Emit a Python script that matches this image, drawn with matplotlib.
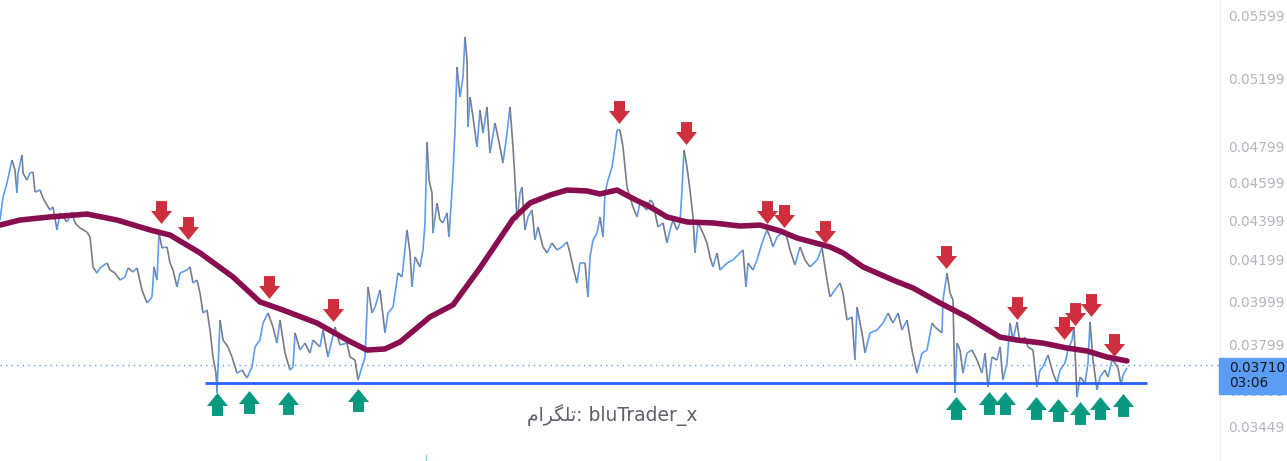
import matplotlib
matplotlib.use("Agg")
import matplotlib.pyplot as plt
from matplotlib.collections import LineCollection
from matplotlib.path import Path
from matplotlib.patches import Rectangle
from matplotlib.lines import Line2D
from matplotlib.ticker import NullLocator

# bar index and closing price
bars = [0, 3, 7, 12, 15, 17, 18, 22, 23, 27, 30, 33, 35, 40, 43, 47, 50, 53, 57, 60, 67, 72, 75, 80, 87,
        90, 93, 97, 100, 107, 110, 115, 120, 125, 128, 133, 137, 142, 147, 152, 154, 157, 159, 162, 167, 170, 173, 177, 180, 187,
        190, 193, 197, 200, 203, 207, 210, 213, 216, 217, 220, 223, 228, 232, 237, 242, 247, 252, 255, 260, 263, 268, 273, 277, 280,
        285, 290, 293, 295, 300, 305, 310, 313, 320, 323, 328, 332, 335, 340, 347, 350, 355, 358, 362, 365, 368, 372, 375, 380, 385,
        388, 393, 398, 402, 407, 410, 412, 415, 420, 423, 425, 427, 429, 432, 433, 437, 440, 443, 447, 449, 452, 453, 455, 457, 460,
        463, 465, 467, 468, 470, 473, 477, 480, 483, 487, 490, 495, 500, 503, 507, 510, 513, 515, 517, 520, 522, 525, 528, 532, 535,
        538, 543, 547, 552, 557, 562, 567, 570, 573, 577, 580, 585, 588, 590, 593, 597, 600, 603, 605, 608, 612, 615, 617, 620, 623,
        627, 630, 633, 637, 640, 647, 650, 653, 658, 663, 667, 670, 673, 677, 680, 682, 684, 687, 690, 693, 695, 698, 703, 707, 710,
        713, 717, 720, 727, 733, 738, 743, 746, 748, 753, 757, 762, 767, 770, 773, 777, 785, 790, 795, 800, 805, 810, 817, 822, 827,
        830, 835, 840, 843, 847, 852, 855, 857, 862, 865, 870, 877, 883, 888, 893, 898, 902, 907, 912, 917, 922, 927, 932, 935, 942,
        943, 947, 950, 953, 955, 957, 960, 963, 967, 972, 977, 982, 985, 988, 992, 997, 1000, 1003, 1007, 1010, 1013, 1017, 1020, 1025, 1028,
        1033, 1037, 1040, 1043, 1048, 1053, 1057, 1060, 1065, 1068, 1072, 1074, 1077, 1080, 1085, 1088, 1090, 1093, 1097, 1100, 1105, 1108, 1112, 1115, 1118,
        1121, 1123, 1127]
close = [0.04399, 0.04520, 0.04595, 0.04721, 0.04666, 0.04541, 0.04649, 0.04749, 0.04649, 0.04611, 0.04649, 0.04655, 0.04546, 0.04557, 0.04514, 0.04477, 0.04451, 0.04467, 0.04348, 0.04436, 0.04389, 0.04441, 0.04384, 0.04358, 0.04337,
         0.04312, 0.04163, 0.04133, 0.04158, 0.04182, 0.04148, 0.04133, 0.04099, 0.04114, 0.04158, 0.04138, 0.04158, 0.04051, 0.03990, 0.04018, 0.04163, 0.04099, 0.04332, 0.04257, 0.04262, 0.04182, 0.04148, 0.04066, 0.04133, 0.04148,
         0.04163, 0.04085, 0.04099, 0.04037, 0.03943, 0.03957, 0.03865, 0.03744, 0.03674, 0.03589, 0.03911, 0.03820, 0.03789, 0.03744, 0.03674, 0.03687, 0.03653, 0.03701, 0.03789, 0.03820, 0.03897, 0.03943, 0.03879, 0.03806, 0.03911,
         0.03762, 0.03687, 0.03701, 0.03852, 0.03775, 0.03806, 0.03762, 0.03820, 0.03789, 0.03865, 0.03744, 0.03820, 0.03879, 0.03798, 0.03806, 0.03744, 0.03731, 0.03644, 0.03701, 0.03744, 0.04066, 0.03943, 0.03971, 0.04051, 0.03852,
         0.03943, 0.03971, 0.04133, 0.04114, 0.04348, 0.04232, 0.04066, 0.04212, 0.04163, 0.04247, 0.04384, 0.04822, 0.04611, 0.04541, 0.04332, 0.04488, 0.04399, 0.04384, 0.04436, 0.04312, 0.04557, 0.04649, 0.04890, 0.05267, 0.05084,
         0.05205, 0.05456, 0.05310, 0.04908, 0.05084, 0.04966, 0.04794, 0.05007, 0.04873, 0.05025, 0.04760, 0.04931, 0.04794, 0.04704, 0.04873, 0.05025, 0.04794, 0.04611, 0.04399, 0.04541, 0.04573, 0.04348, 0.04415, 0.04451, 0.04297,
         0.04363, 0.04262, 0.04232, 0.04282, 0.04247, 0.04262, 0.04287, 0.04232, 0.04163, 0.04085, 0.04182, 0.04182, 0.04018, 0.04212, 0.04297, 0.04332, 0.04415, 0.04312, 0.04541, 0.04611, 0.04682, 0.04794, 0.04890, 0.04890, 0.04794,
         0.04573, 0.04520, 0.04467, 0.04415, 0.04488, 0.04451, 0.04504, 0.04488, 0.04363, 0.04384, 0.04282, 0.04348, 0.04399, 0.04348, 0.04384, 0.04557, 0.04777, 0.04682, 0.04557, 0.04415, 0.04232, 0.04384, 0.04332, 0.04282, 0.04212,
         0.04163, 0.04232, 0.04148, 0.04182, 0.04197, 0.04222, 0.04247, 0.04066, 0.04182, 0.04148, 0.04197, 0.04282, 0.04348, 0.04312, 0.04262, 0.04312, 0.04348, 0.04247, 0.04172, 0.04262, 0.04197, 0.04163, 0.04197, 0.04257, 0.04099,
         0.04018, 0.04051, 0.04085, 0.04037, 0.03911, 0.03925, 0.03731, 0.03971, 0.03852, 0.03762, 0.03852, 0.03865, 0.03897, 0.03943, 0.03897, 0.03943, 0.03865, 0.03911, 0.03775, 0.03674, 0.03762, 0.03775, 0.03897, 0.03879, 0.03852,
         0.04004, 0.04133, 0.04037, 0.04004, 0.03589, 0.03806, 0.03775, 0.03674, 0.03762, 0.03775, 0.03731, 0.03674, 0.03762, 0.03614, 0.03744, 0.03731, 0.03789, 0.03644, 0.03718, 0.03897, 0.03820, 0.03902, 0.03806, 0.03833, 0.03789,
         0.03775, 0.03614, 0.03687, 0.03701, 0.03753, 0.03674, 0.03632, 0.03687, 0.03718, 0.03775, 0.03820, 0.03879, 0.03572, 0.03657, 0.03632, 0.03718, 0.03902, 0.03731, 0.03602, 0.03657, 0.03687, 0.03657, 0.03731, 0.03718, 0.03696,
         0.03623, 0.03666, 0.03696]

# moving average
ma_bars = [0, 20, 50, 87, 117, 150, 170, 200, 233, 260, 283, 317, 347, 367, 385, 400, 430, 453, 480, 513, 530, 550, 567, 587, 600, 617,
           630, 640, 647, 667, 687, 713, 740, 760, 780, 797, 830, 843, 863, 893, 913, 940, 967, 980, 1000, 1017, 1043, 1067, 1087, 1107, 1127]
ma_vals = [0.04373, 0.04399, 0.04415, 0.04430, 0.04399, 0.04348, 0.04322, 0.04232, 0.04114, 0.03995, 0.03957, 0.03897, 0.03820, 0.03775,
           0.03780, 0.03811, 0.03925, 0.03981, 0.04158, 0.04404, 0.04488, 0.04530, 0.04557, 0.04552, 0.04536, 0.04557, 0.04520, 0.04493,
           0.04477, 0.04415, 0.04389, 0.04384, 0.04368, 0.04373, 0.04343, 0.04307, 0.04262, 0.04232, 0.04163, 0.04099, 0.04061, 0.03990,
           0.03925, 0.03888, 0.03833, 0.03820, 0.03806, 0.03784, 0.03771, 0.03744, 0.03727]

# sell / buy signal arrows
sell_bars = [161, 188, 269, 333, 619, 686, 767, 784, 825, 946, 1017, 1064, 1075, 1091, 1114]
sell_vals = [0.04441, 0.04358, 0.04066, 0.03957, 0.04995, 0.04873, 0.04441, 0.04420, 0.04337, 0.04212, 0.03966, 0.03874, 0.03939, 0.03981, 0.03798]
buy_bars = [217, 249, 288, 358, 956, 989, 1005, 1036, 1058, 1080, 1100, 1123]
buy_vals = [0.03543, 0.03551, 0.03547, 0.03560, 0.03526, 0.03547, 0.03547, 0.03526, 0.03518, 0.03506, 0.03526, 0.03539]

support = 0.03632
support_from, support_to = 205, 1147
last_price = 0.03710
last_time = "03:06"
tick_vals = [0.05599, 0.05199, 0.04799, 0.04599, 0.04399, 0.04199, 0.03999, 0.03799, 0.03599, 0.03449]
tick_labels = ["0.05599", "0.05199", "0.04799", "0.04599", "0.04399", "0.04199", "0.03999", "0.03799", "0.03599", "0.03449"]

W, H = 1287, 461
fig = plt.figure(figsize=(W / 100, H / 100), dpi=100)
ax = fig.add_axes([0, 0, 1220 / W, 1])
ax.set_yscale("log")
ax.set_xlim(0, 1220)
ax.set_ylim(0.033131, 0.056987)
ax.yaxis.tick_right()
ax.set_yticks(tick_vals, tick_labels)
ax.yaxis.set_minor_locator(NullLocator())
ax.set_xticks([])
ax.tick_params(axis="y", length=0, pad=5.5, labelsize=9.8, labelcolor="#b2b5be")
for s in ["left", "top", "bottom"]:
    ax.spines[s].set_visible(False)
ax.spines["right"].set_color("#eef0f5")

# price line: blue on up moves, grey on down moves
segs = [[(bars[i], close[i]), (bars[i + 1], close[i + 1])] for i in range(len(bars) - 1)]
cols = ["#5b9cf6" if close[i + 1] >= close[i] else "#787b86" for i in range(len(bars) - 1)]
ax.add_collection(LineCollection(segs, colors=cols, linewidths=1.2, zorder=3))

ax.plot(ma_bars, ma_vals, color="#880e4f", lw=4, solid_capstyle="round", solid_joinstyle="round", zorder=4)

ax.hlines(support, support_from, support_to, color="#2962ff", lw=2, zorder=5)
ax.axhline(last_price, color="#5b9cf6", lw=1, ls=(0, (1, 3)), zorder=2)

up = Path([(-0.24, -0.5), (0.24, -0.5), (0.24, -0.065), (0.46, -0.065), (0, 0.5),
           (-0.46, -0.065), (-0.24, -0.065), (-0.24, -0.5)], closed=True)
down = Path([(x, -y) for x, y in up.vertices], closed=True)
ax.plot(sell_bars, sell_vals, ls="none", marker=down, ms=16.5, mfc="#cf2f3c", mew=0, zorder=6)
ax.plot(buy_bars, buy_vals, ls="none", marker=up, ms=16.5, mfc="#089981", mew=0, zorder=6)

# last price tag on the scale
fig.add_artist(Rectangle((1219 / W, 1 - 394 / H), 68 / W, 36 / H, transform=fig.transFigure,
                         color="#5b9cf6", zorder=5))
fig.text(1229 / W, 1 - 368 / H, "%.5f" % last_price, fontsize=9.8, color="#131722", va="center", zorder=6)
fig.text(1229 / W, 1 - 383 / H, last_time, fontsize=9.8, color="#131722", va="center", zorder=6)

# watermark (persian word given in shaped glyphs, visual order)
persian = "\ufee1\ufe8d\ufeae\ufb95\ufee0\ufe97"
fig.text(612 / W, 1 - 415 / H, persian + ": bluTrader_x", fontsize=13.5, color="#5d606b",
         family=["DejaVu Sans"], ha="center", va="center")
fig.add_artist(Line2D([426 / W, 426 / W], [0, 6 / H], color="#7fd6c8", lw=1))

fig.savefig("out.png", dpi=100)
